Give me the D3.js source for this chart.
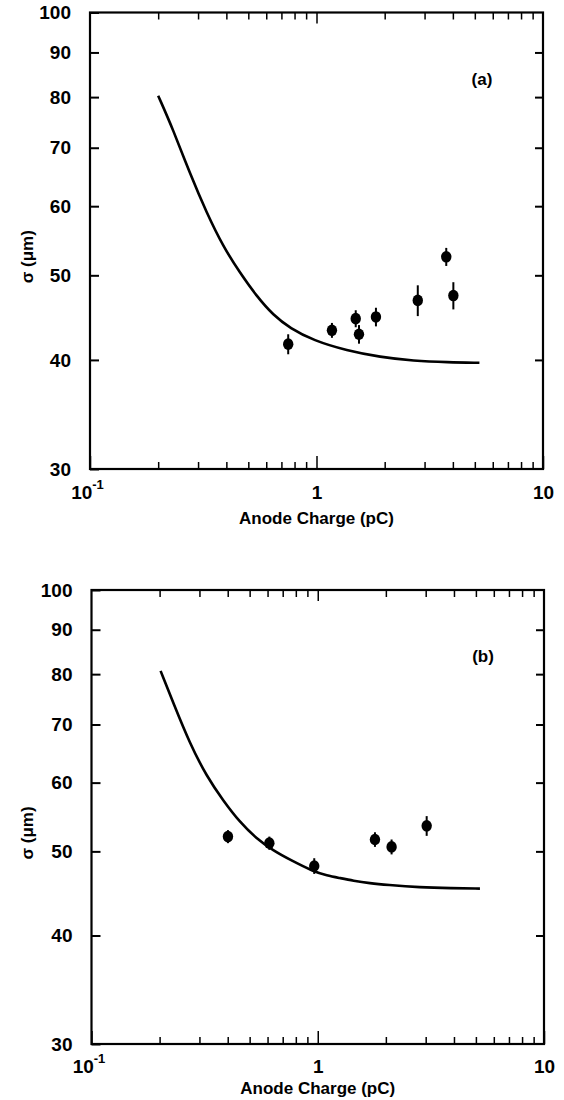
<!DOCTYPE html>
<html>
<head>
<meta charset="utf-8">
<script src="https://cdn.jsdelivr.net/npm/d3@7"></script>
<style>
  body { margin: 0; background: #fff; }
  text { font-family: "Liberation Sans", Arial, sans-serif; fill: #000; }
</style>
</head>
<body>
<div id="chart"></div>
<script>
// panel (a) measurements: anode charge (pC), sigma (um), error (um)
const chargeA = [0.75, 1.17, 1.49, 1.54, 1.83, 2.8, 3.74, 4.02];
const sigmaA  = [41.7, 43.25, 44.6, 42.8, 44.8, 46.8, 52.5, 47.4];
const errA    = [1.1, 0.85, 1.0, 1.05, 1.1, 1.9, 1.25, 1.7];
// panel (a) model curve
const curveQA = [0.2, 0.233, 0.276, 0.328, 0.388, 0.46, 0.545, 0.645, 0.764, 0.97, 1.36, 1.91, 2.68, 3.8, 5.24];
const curveSA = [80.3, 73.4, 65.4, 58.9, 53.9, 50.3, 47.3, 45.0, 43.5, 42.1, 41.0, 40.3, 39.9, 39.75, 39.7];

// panel (b) measurements
const chargeB = [0.401, 0.611, 0.965, 1.79, 2.12, 3.03];
const sigmaB  = [52.0, 51.1, 48.1, 51.6, 50.6, 53.5];
const errB    = [0.9, 0.9, 1.0, 1.0, 1.0, 1.4];
// panel (b) model curve
const curveQB = [0.202, 0.23, 0.2725, 0.323, 0.382, 0.453, 0.537, 0.636, 0.754, 0.956, 1.1, 1.245, 1.436, 1.7, 2.017, 2.83, 3.9, 5.21];
const curveSB = [80.7, 74.1, 66.5, 61.0, 57.2, 54.0, 51.7, 50.1, 48.9, 47.4, 46.9, 46.6, 46.25, 45.95, 45.75, 45.45, 45.35, 45.3];

// axis ticks
const yTicks = [30, 40, 50, 60, 70, 80, 90, 100];
const yInner = [40, 50, 60, 70, 80, 90];
const xMajor = [0.1, 1, 10];
const xMinor = [0.2, 0.3, 0.4, 0.5, 0.6, 0.7, 0.8, 0.9, 2, 3, 4, 5, 6, 7, 8, 9];

const svg = d3.select("#chart").append("svg")
  .attr("width", 564)
  .attr("height", 1100);

function drawPanel(box, q, s, e, cq, cs, tag) {
  const x = d3.scaleLog().domain([0.1, 10]).range([box.left, box.right]);
  const y = d3.scaleLog().domain([30, 100]).range([box.bottom, box.top]);
  const g = svg.append("g");

  // minor x ticks, bottom and top
  g.append("g")
    .attr("transform", `translate(0,${box.bottom})`)
    .call(d3.axisBottom(x).tickValues(xMinor).tickSize(-7).tickFormat(""))
    .call(a => a.select(".domain").remove())
    .selectAll("line").attr("stroke-width", 1.5);
  g.append("g")
    .attr("transform", `translate(0,${box.top})`)
    .call(d3.axisTop(x).tickValues(xMinor).tickSize(-7).tickFormat(""))
    .call(a => a.select(".domain").remove())
    .selectAll("line").attr("stroke-width", 1.5);
  g.append("g")
    .attr("transform", `translate(0,${box.top})`)
    .call(d3.axisTop(x).tickValues([1]).tickSize(-11).tickFormat(""))
    .call(a => a.select(".domain").remove())
    .selectAll("line").attr("stroke-width", 1.5);

  // major x ticks with labels
  const xa = g.append("g")
    .attr("transform", `translate(0,${box.bottom})`)
    .call(d3.axisBottom(x).tickValues(xMajor).tickSize(-13).tickPadding(box.tickPad).tickFormat(""));
  xa.select(".domain").remove();
  xa.selectAll("line").attr("stroke-width", 1.5);
  xa.selectAll(".tick text")
    .attr("font-size", 19)
    .attr("font-weight", "bold")
    .attr("font-family", "Liberation Sans, Arial, sans-serif")
    .attr("dy", "0.85em")
    .each(function(d) {
      const t = d3.select(this);
      if (d === 0.1) {
        t.attr("dx", "-3");
        t.append("tspan").text("10");
        t.append("tspan").attr("font-size", 13).attr("dy", "-0.75em").text("-1");
      } else {
        t.text(d === 1 ? "1" : "10");
      }
    });

  // y ticks left and right
  g.append("g")
    .attr("transform", `translate(${box.right},0)`)
    .call(d3.axisRight(y).tickValues(yInner).tickSize(-8).tickFormat(""))
    .call(a => a.select(".domain").remove())
    .selectAll("line").attr("stroke-width", 2);
  const ya = g.append("g")
    .attr("transform", `translate(${box.left},0)`)
    .call(d3.axisLeft(y).tickValues(yTicks).tickSize(-9).tickPadding(19).tickFormat(d3.format("d")));
  ya.select(".domain").remove();
  ya.selectAll("line").attr("stroke-width", 2);
  ya.selectAll(".tick text")
    .attr("font-size", 19)
    .attr("font-weight", "bold")
    .attr("font-family", "Liberation Sans, Arial, sans-serif");

  // frame
  g.append("rect")
    .attr("x", box.left).attr("y", box.top)
    .attr("width", box.right - box.left)
    .attr("height", box.bottom - box.top)
    .attr("fill", "none")
    .attr("stroke", "#000")
    .attr("stroke-width", 2.2);

  // model curve
  const line = d3.line()
    .x(d => x(d[0]))
    .y(d => y(d[1]))
    .curve(d3.curveBasis);
  g.append("path")
    .datum(d3.zip(cq, cs))
    .attr("d", line)
    .attr("fill", "none")
    .attr("stroke", "#000")
    .attr("stroke-width", 2.6);

  // measurements
  const pts = d3.range(q.length).map(i => ({q: q[i], s: s[i], e: e[i]}));
  g.append("g").selectAll("line")
    .data(pts)
    .join("line")
    .attr("x1", d => x(d.q)).attr("x2", d => x(d.q))
    .attr("y1", d => y(d.s - d.e)).attr("y2", d => y(d.s + d.e))
    .attr("stroke", "#000")
    .attr("stroke-width", 2);
  g.append("g").selectAll("ellipse")
    .data(pts)
    .join("ellipse")
    .attr("cx", d => x(d.q))
    .attr("cy", d => y(d.s))
    .attr("rx", 5.2)
    .attr("ry", 5.8)
    .attr("fill", "#000");

  // labels
  g.append("text")
    .attr("x", (box.left + box.right) / 2)
    .attr("y", box.bottom + box.labelPad)
    .attr("text-anchor", "middle")
    .attr("font-size", 17)
    .attr("font-weight", "bold")
    .text("Anode Charge (pC)");
  g.append("text")
    .attr("transform", `translate(33,${(box.top + box.bottom) / 2 + 16}) rotate(-90)`)
    .attr("text-anchor", "middle")
    .attr("font-size", 17)
    .attr("font-weight", "bold")
    .text("σ (μm)");
  g.append("text")
    .attr("x", box.right - 61)
    .attr("y", box.top + 72)
    .attr("text-anchor", "middle")
    .attr("font-size", 17)
    .attr("font-weight", "bold")
    .text(tag);
}

drawPanel({left: 90, right: 543, top: 12.5, bottom: 469, tickPad: 14, labelPad: 55},
  chargeA, sigmaA, errA, curveQA, curveSA, "(a)");
drawPanel({left: 91.5, right: 544, top: 590, bottom: 1044, tickPad: 13, labelPad: 50},
  chargeB, sigmaB, errB, curveQB, curveSB, "(b)");
</script>
</body>
</html>
